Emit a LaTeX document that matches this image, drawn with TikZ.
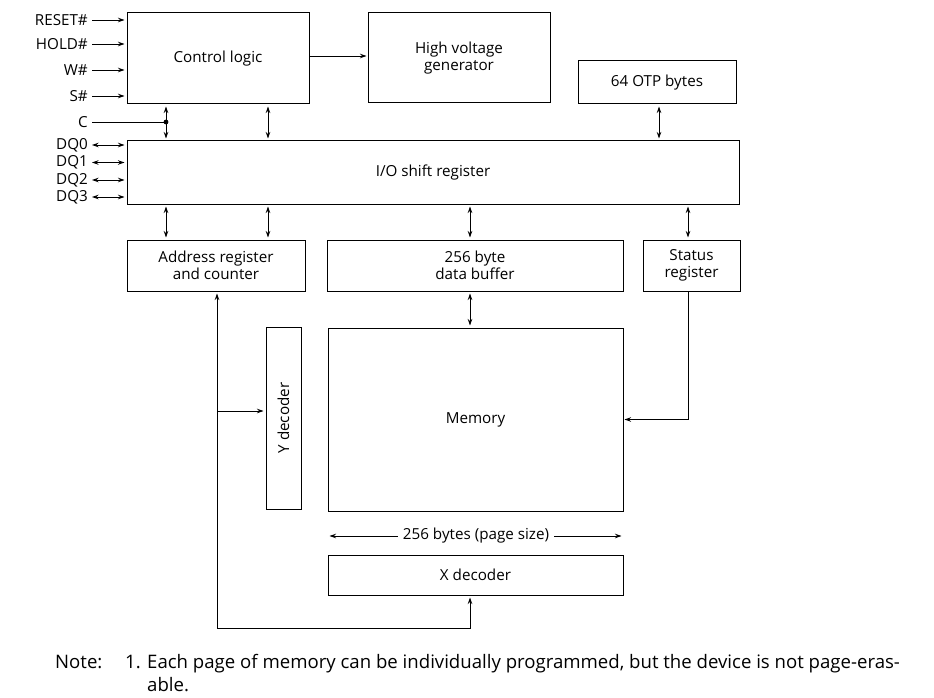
\documentclass[tikz,border=0pt]{standalone}
\usepackage{fontspec}
\setmainfont{Open Sans}
\usetikzlibrary{arrows.meta,positioning,calc}

\begin{document}
\begin{tikzpicture}[x=1pt, y=-1pt, font=\fontsize{15.2}{17.5}\selectfont,
    block/.style={rectangle, draw, line width=1pt, inner sep=2pt, align=center},
    sig/.style={anchor=east, inner sep=2pt},
    arrow/.style={-{Stealth[length=6.5pt,width=4.5pt]}, line width=0.9pt},
    dblarrow/.style={{Stealth[length=6.5pt,width=4.5pt]}-{Stealth[length=6.5pt,width=4.5pt]}, line width=0.9pt},
    wire/.style={line width=0.9pt}]

    \useasboundingbox (0,0) rectangle (934,698);

    % Top row
    \node[block, minimum width=182pt, minimum height=91pt] (ctrl) at (218,58.5) {Control logic};
    \node[block, minimum width=182pt, minimum height=90pt] (hvg) at (459,58) {High voltage\\generator};
    \node[block, minimum width=158pt, minimum height=43pt] (otp) at (657,82.5) {64 OTP bytes};

    % Shift register
    \node[block, minimum width=612pt, minimum height=63pt] (io) at (433,172.5) {I/O shift register};

    % Registers and buffer
    \node[block, minimum width=178pt, minimum height=51pt] (addr) at (216,265.5) {Address register\\and counter};
    \node[block, minimum width=296pt, minimum height=51pt] (dbuf) at (475,265.5) {256 byte\\data buffer};
    \node[block, minimum width=97pt, minimum height=51pt] (stat) at (691.5,265.5) {Status\\register};

    % Array and decoders
    \node[block, minimum width=35pt, minimum height=182pt] (ydec) at (283.5,418) {};
    \node[rotate=90] at (ydec.center) {Y decoder};
    \node[block, minimum width=295pt, minimum height=183pt] (mem) at (475.5,419.5) {Memory};
    \node[block, minimum width=295pt, minimum height=40pt] (xdec) at (475.5,575) {X decoder};
    \node[inner sep=5pt] (pagesz) at (476,536) {256 bytes (page size)};

    % Input signals
    \node[sig] (reset) at (90,20) {RESET\#};
    \node[sig] (hold) at (90,44) {HOLD\#};
    \node[sig] (w) at (90,70) {W\#};
    \node[sig] (s) at (90,96) {S\#};
    \node[sig] (c) at (90,122) {C};
    \node[sig] (dq0) at (90,145) {DQ0};
    \node[sig] (dq1) at (90,162.5) {DQ1};
    \node[sig] (dq2) at (90,180) {DQ2};
    \node[sig] (dq3) at (90,197) {DQ3};

    % Helper coordinates
    \coordinate (xa) at (166,0);
    \coordinate (xb) at (268,0);
    \coordinate (xc) at (470,0);
    \coordinate (xd) at (659,0);
    \coordinate (xe) at (688,0);
    \coordinate (hy) at (0,56);
    \coordinate (cdot) at (166,122);
    \coordinate (loopl) at (217,628);
    \coordinate (loopr) at (470,628);
    \coordinate (ytap) at (217,411);

    % Arrows
    \foreach \n in {reset,hold,w,s}
        \draw[arrow] ($(\n.east)+(2,0)$) -- ($(ctrl.west |- \n)+(-2,0)$);
    \foreach \n in {dq0,dq1,dq2,dq3}
        \draw[dblarrow] ($(\n.east)+(2,0)$) -- ($(io.west |- \n)+(-2,0)$);
    \draw[wire] ($(c.east)+(2,0)$) -- (cdot);
    \fill (cdot) circle (2.4pt);

    \draw[arrow] (ctrl.east |- hy) -- ($(hvg.west |- hy)+(-1,0)$);
    \draw[dblarrow, shorten <=2pt, shorten >=2pt] (ctrl.south -| xa) -- (io.north -| xa);
    \draw[dblarrow, shorten <=2pt, shorten >=2pt] (ctrl.south -| xb) -- (io.north -| xb);
    \draw[dblarrow, shorten <=2pt, shorten >=2pt] (otp.south -| xd) -- (io.north -| xd);

    \draw[dblarrow, shorten <=2pt, shorten >=2pt] (io.south -| xa) -- (addr.north -| xa);
    \draw[dblarrow, shorten <=2pt, shorten >=2pt] (io.south -| xb) -- (addr.north -| xb);
    \draw[dblarrow, shorten <=2pt, shorten >=2pt] (io.south -| xc) -- (dbuf.north -| xc);
    \draw[dblarrow, shorten <=2pt, shorten >=2pt] (io.south -| xe) -- (stat.north -| xe);
    \draw[dblarrow, shorten <=2pt, shorten >=2pt] (dbuf.south -| xc) -- (mem.north -| xc);

    \draw[arrow, shorten >=1pt] (stat.south -| xe) |- (mem.east);
    \draw[dblarrow, shorten <=2pt, shorten >=2pt] (addr.south -| loopl) -- (loopl) -- (loopr) -- (xdec.south -| loopr);
    \draw[arrow, shorten >=2pt] (ytap) -- (ydec.west |- ytap);

    \draw[arrow] (pagesz.west) -- ($(mem.west |- pagesz)+(2,0)$);
    \draw[arrow] (pagesz.east) -- ($(mem.east |- pagesz)+(-2,0)$);

    % Note
    \begin{scope}[font=\fontsize{18.6}{21}\selectfont]
        \node[anchor=base west, inner sep=0pt] (note) at (55,668) {Note:};
        \node[anchor=base west, inner sep=0pt] (num) at (125,668) {1.};
        \node[anchor=base west, inner sep=0pt] (line1) at (147,668) {Each page of memory can be individually programmed, but the device is not page-eras-};
        \node[anchor=base west, inner sep=0pt] (line2) at (147,691) {able.};
    \end{scope}

\end{tikzpicture}
\end{document}
